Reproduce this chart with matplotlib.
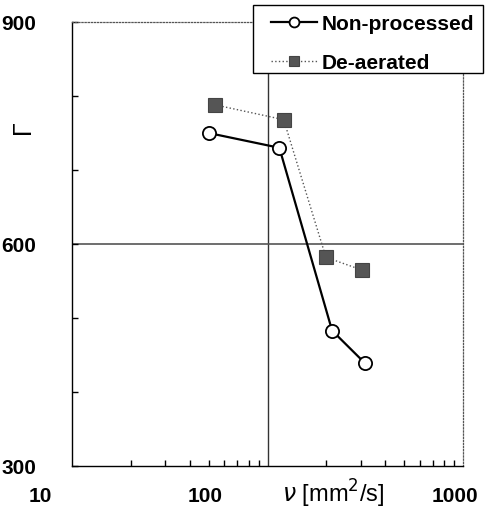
import matplotlib
matplotlib.use('Agg')
import matplotlib.pyplot as plt
from matplotlib.patches import Rectangle

# data
visc_raw = [50, 115, 214, 315]
gamma_raw = [750, 730, 483, 439]
visc_deaer = [54, 121, 199, 303]
gamma_deaer = [788, 768, 582, 565]

x_tick_vals = [10, 100, 1000]
x_tick_text = ['10', '100', '1000']
y_tick_vals = [300, 400, 500, 600, 700, 800, 900]
y_tick_text = ['300', '', '', '600', '', '', '900']

plt.rcParams['font.family'] = ['Liberation Sans', 'DejaVu Sans']

W, H = 486, 510
fig = plt.figure(figsize=(W / 100, H / 100), dpi=100)
ax = fig.add_axes([72 / W, 1 - 467 / H, (463 - 72) / W, (467 - 23) / H])

ax.set_xscale('log')
ax.set_xlim(10, 1000)
ax.set_ylim(300, 900)

# reference lines
ax.axvline(100, color='#333333', lw=1.0, zorder=1)
ax.axhline(600, color='#555555', lw=1.2, zorder=1)

ax.plot(visc_raw, gamma_raw, '-', color='black', lw=1.6,
        marker='o', ms=9.5, mfc='white', mec='black', mew=1.3,
        label='Non-processed', zorder=3)
ax.plot(visc_deaer, gamma_deaer, ':', color='#555555', lw=1.0,
        marker='s', ms=9.5, mfc='#555555', mec='#444444', mew=0.8,
        label='De-aerated', zorder=3)

for side in ['left', 'bottom']:
    ax.spines[side].set_color('black')
    ax.spines[side].set_linewidth(1.0)
for side in ['top', 'right']:
    ax.spines[side].set_linestyle((0, (1, 1.5)))
    ax.spines[side].set_color('#555555')
    ax.spines[side].set_linewidth(0.9)

ax.set_yticks(y_tick_vals)
ax.set_yticklabels(y_tick_text, fontsize=15, fontweight='bold')
ax.tick_params(axis='y', direction='in', length=4, width=1, pad=26)

ax.set_xticks(x_tick_vals)
ax.set_xticklabels([])
ax.tick_params(axis='x', which='major', length=0)
ax.tick_params(axis='x', which='minor', direction='in', length=4, width=1)

# x labels sit offset from their ticks like the source
x_label_px = [40, 205, 455]
for px, t in zip(x_label_px, x_tick_text):
    fig.text(px / W, 1 - 497 / H, t, fontsize=15, fontweight='bold',
             ha='center', va='center')
fig.text(333 / W, 1 - 494 / H, r'$\nu$ [mm$^2$/s]', fontsize=17,
         ha='center', va='center')

fig.text(23 / W, 1 - 127 / H, 'Γ', fontsize=18, rotation=90,
         ha='center', va='center')

# legend box drawn by hand so the left padding matches the source
box = Rectangle((253 / W, 1 - 74 / H), (483 - 253) / W, (74 - 6) / H,
                transform=fig.transFigure, facecolor='white',
                edgecolor='black', lw=1.0, zorder=4)
fig.patches.append(box)

handles, labels = ax.get_legend_handles_labels()
leg = fig.legend(handles, labels, loc='upper left',
                 bbox_to_anchor=(263 / W, 1 - 7 / H),
                 frameon=False, prop={'size': 15, 'weight': 'bold'},
                 handlelength=2.2, borderpad=0.4, labelspacing=0.95,
                 handletextpad=0.2, borderaxespad=0, markerscale=0.75)
leg.set_zorder(5)

fig.savefig('out.png', dpi=100)
